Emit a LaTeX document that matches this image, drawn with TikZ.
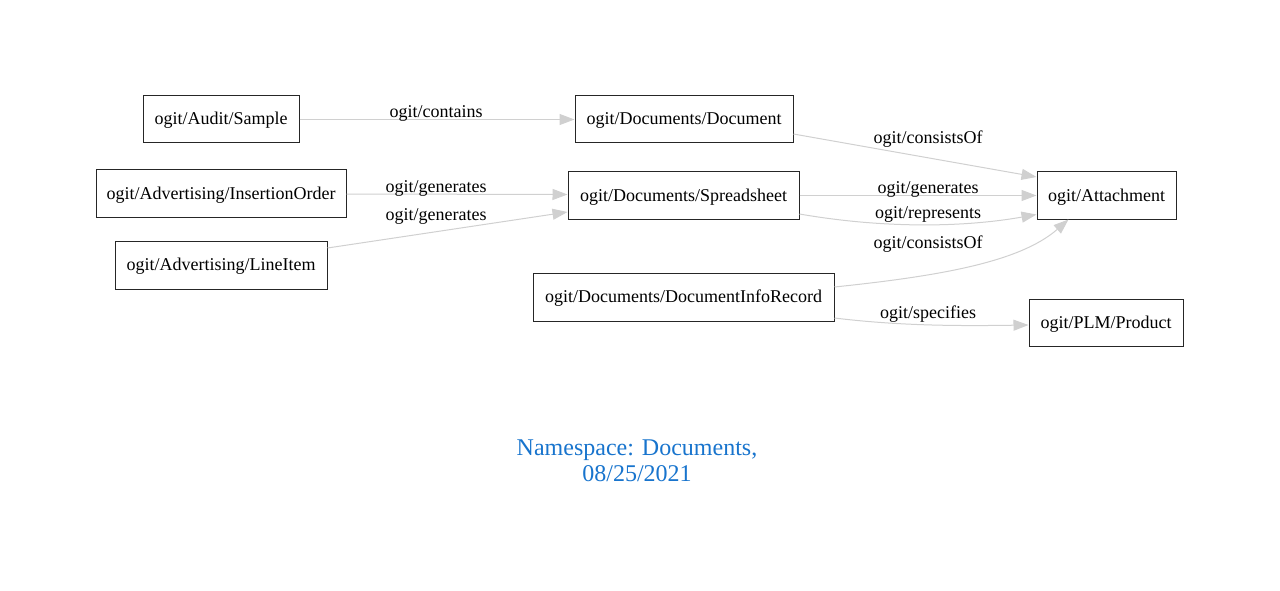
\documentclass[tikz,border=0pt]{standalone}
\usepackage{fontspec}
\setmainfont{Liberation Serif}
\usetikzlibrary{arrows.meta}
\definecolor{titleblue}{RGB}{24,116,205}
\definecolor{edgegray}{RGB}{208,208,208}
\tikzset{
  box/.style={draw=black!85, line width=1pt, rectangle, inner sep=0pt,
    font=\fontsize{18}{21}\selectfont, text height=15pt, text depth=4pt},
  edge/.style={draw=edgegray, line width=1pt,
    -{Triangle[length=15pt,width=11pt,fill=edgegray]}},
  elabel/.style={font=\fontsize{18}{21}\selectfont, inner sep=0pt, text height=15pt, text depth=4pt}
}
\begin{document}
\begin{tikzpicture}[x=1pt,y=-1pt]
\useasboundingbox (0,0) rectangle (1280,591);
\node[box, minimum width=156pt, minimum height=47pt] (sample) at (221,119.5) {ogit/Audit/Sample};
\node[box, minimum width=218pt, minimum height=47pt] (doc) at (684,119.5) {ogit/Documents/Document};
\node[box, minimum width=250pt, minimum height=47pt] (io) at (221,193.5) {ogit/Advertising/InsertionOrder};
\node[box, minimum width=231pt, minimum height=47pt] (sheet) at (683.5,195.5) {ogit/Documents/Spreadsheet};
\node[box, minimum width=139pt, minimum height=47pt] (att) at (1106.5,195.5) {ogit/Attachment};
\node[box, minimum width=212pt, minimum height=48pt] (li) at (221,265) {ogit/Advertising/LineItem};
\node[box, minimum width=301pt, minimum height=48pt] (dir) at (683.5,297) {ogit/Documents/DocumentInfoRecord};
\node[box, minimum width=154pt, minimum height=47pt] (prod) at (1106,322.5) {ogit/PLM/Product};

\draw[edge] (sample.east) -- (doc.west);
\node[elabel] (l1) at (436,112) {ogit/contains};

\draw[edge] ([yshift=-14.5pt]doc.east) -- ([yshift=18.5pt]att.west);
\node[elabel] (l2) at (928,138) {ogit/consistsOf};

\draw[edge] ([yshift=-0.5pt]io.east) -- ([yshift=1pt]sheet.west);
\node[elabel] (l3) at (436,187) {ogit/generates};

\draw[edge] ([yshift=17pt]li.east) -- ([yshift=-16.5pt]sheet.west);
\node[elabel] (l4) at (436,215) {ogit/generates};

\draw[edge] (sheet.east) -- (att.west);
\node[elabel] (l5) at (928,188) {ogit/generates};

\draw[edge] ([yshift=-18.5pt]sheet.east) .. controls (880,228) and (960,228) .. ([yshift=-19pt]att.west);
\node[elabel] (l6) at (928,213) {ogit/represents};

\draw[edge] ([yshift=10pt]dir.east) .. controls (940,276) and (1020,262) .. ([xshift=-38pt]att.south);
\node[elabel] (l7) at (928,243) {ogit/consistsOf};

\draw[edge] ([yshift=-21pt]dir.east) .. controls (900,326) and (960,326) .. ([yshift=-2.5pt]prod.west);
\node[elabel] (l8) at (928,313) {ogit/specifies};

\node[font=\fontsize{24}{26.5}\selectfont, text=titleblue, align=center] (title) at (637,461) {Namespace: Documents,\\08/25/2021};
\end{tikzpicture}
\end{document}
